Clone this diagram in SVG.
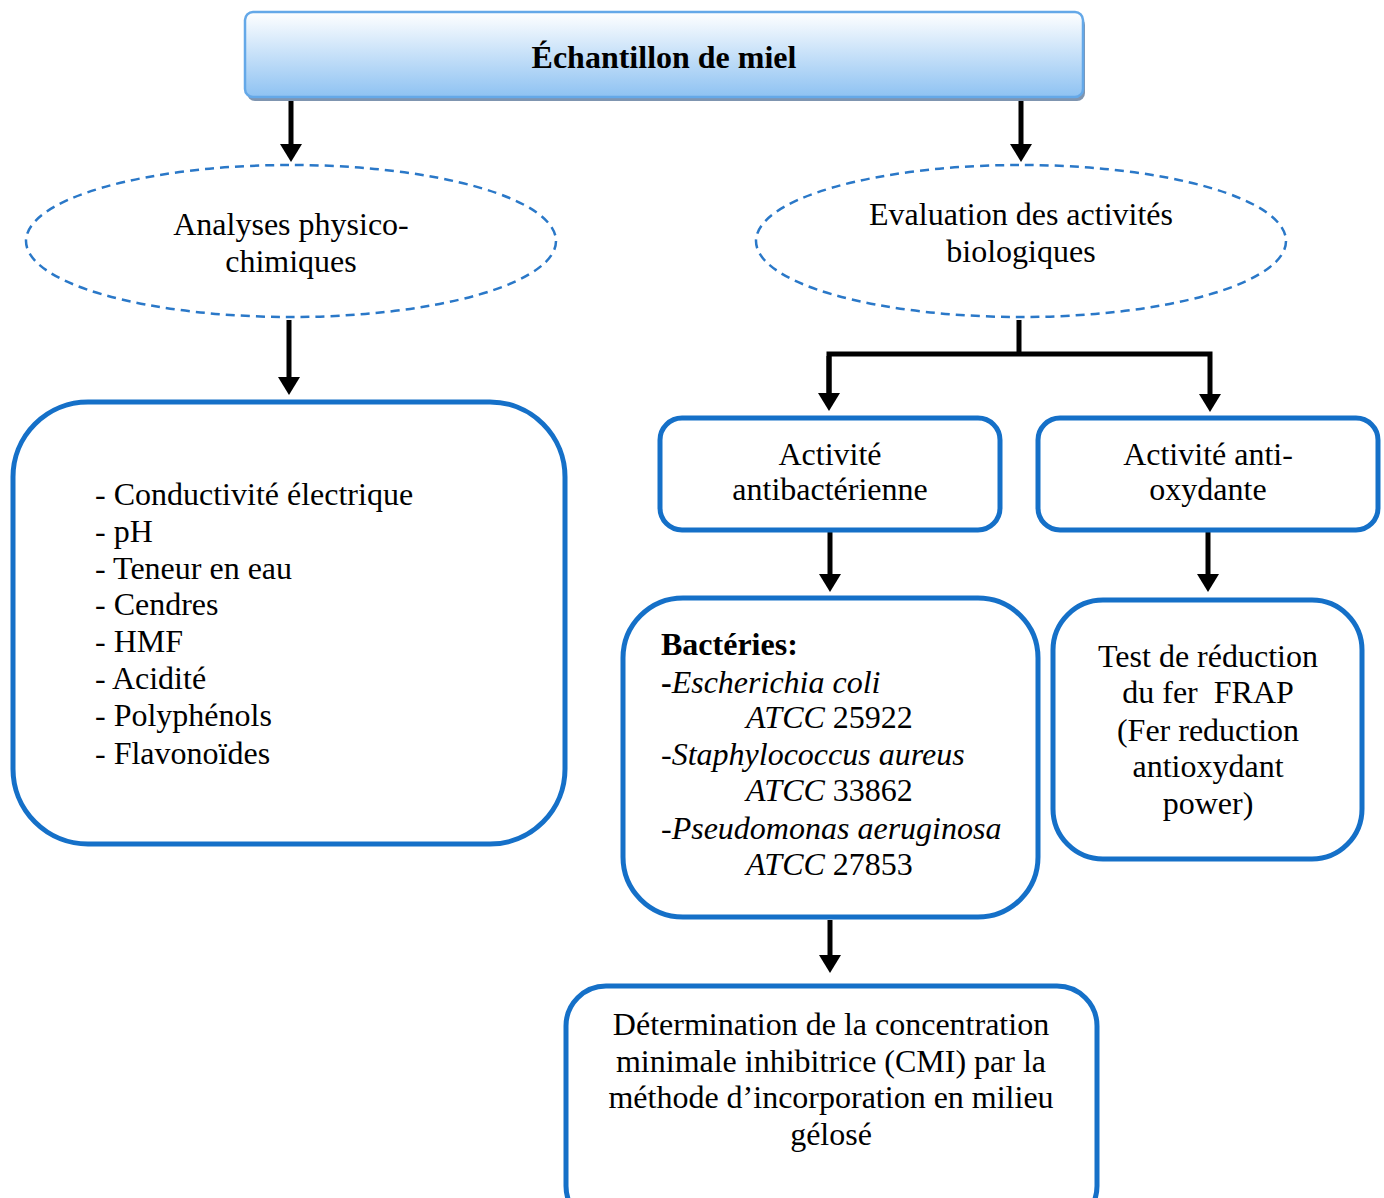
<svg xmlns="http://www.w3.org/2000/svg" width="1384" height="1198" viewBox="0 0 1384 1198">
<defs>
<linearGradient id="g1" x1="0" y1="0" x2="0" y2="1">
<stop offset="0" stop-color="#FFFFFF"/>
<stop offset="1" stop-color="#8EC2F2"/>
</linearGradient>
<marker id="ah" markerWidth="18" markerHeight="22" refX="0" refY="11" orient="auto" markerUnits="userSpaceOnUse" viewBox="0 0 18 22">
<path d="M0,0 L18,11 L0,22 Z" fill="#000"/>
</marker>
</defs>
<style>
text{font-family:"Liberation Serif","Times New Roman",serif;font-size:32px;fill:#000}
.c{text-anchor:middle}
.box{fill:#fff;stroke:#1570C8;stroke-width:5}
.ell{fill:#fff;stroke:#2A78C8;stroke-width:2.5;stroke-dasharray:9 6}
.ar{fill:none;stroke:#000;stroke-width:5}
.i{font-style:italic}
.b{font-weight:bold}
.pre{white-space:pre}
</style>
<rect width="1384" height="1198" fill="#fff"/>
<g id="connectors">
<line class="ar" x1="291" y1="100" x2="291" y2="144" marker-end="url(#ah)"/>
<line class="ar" x1="1021" y1="100" x2="1021" y2="144" marker-end="url(#ah)"/>
<line class="ar" x1="289" y1="320" x2="289" y2="377" marker-end="url(#ah)"/>
<polyline class="ar" points="1019,320 1019,354"/>
<polyline class="ar" points="829,394 829,354 1210,354 1210,394" marker-end="url(#ah)"/>
<line class="ar" x1="829" y1="356" x2="829" y2="393" marker-end="url(#ah)"/>
<line class="ar" x1="830" y1="532" x2="830" y2="574" marker-end="url(#ah)"/>
<line class="ar" x1="1208" y1="532" x2="1208" y2="574" marker-end="url(#ah)"/>
<line class="ar" x1="830" y1="920" x2="830" y2="955" marker-end="url(#ah)"/>
</g>
<g id="n-echantillon">
<rect x="247" y="17" width="838" height="84" rx="8" fill="#7F95B0"/>
<rect x="245" y="12" width="838" height="85" rx="8" fill="url(#g1)" stroke="#64A8E8" stroke-width="2.5"/>
<text class="c b" x="664" y="68">Échantillon de miel</text>
</g>
<g id="n-physico">
<ellipse class="ell" cx="291" cy="241" rx="265" ry="76"/>
<text class="c" x="291" y="235">Analyses physico-</text>
<text class="c" x="291" y="272">chimiques</text>
</g>
<g id="n-bio">
<ellipse class="ell" cx="1021" cy="241" rx="265" ry="76"/>
<text class="c" x="1021" y="225">Evaluation des activités</text>
<text class="c" x="1021" y="262">biologiques</text>
</g>
<g id="n-liste">
<rect class="box" x="13" y="402" width="552" height="442" rx="75"/>
<text x="95" y="505">- Conductivité électrique</text>
<text x="95" y="542">- pH</text>
<text x="95" y="579">- Teneur en eau</text>
<text x="95" y="615">- Cendres</text>
<text x="95" y="652">- HMF</text>
<text x="95" y="689">- Acidité</text>
<text x="95" y="726">- Polyphénols</text>
<text x="95" y="764">- Flavonoïdes</text>
</g>
<g id="n-antibact">
<rect class="box" x="660" y="418" width="340" height="112" rx="22"/>
<text class="c" x="830" y="465">Activité</text>
<text class="c" x="830" y="500">antibactérienne</text>
</g>
<g id="n-antiox">
<rect class="box" x="1038" y="418" width="340" height="112" rx="22"/>
<text class="c" x="1208" y="465">Activité anti-</text>
<text class="c" x="1208" y="500">oxydante</text>
</g>
<g id="n-bacteries">
<rect class="box" x="623" y="598" width="415" height="319" rx="60"/>
<text class="b" x="661" y="655">Bactéries:</text>
<text x="661" y="693"><tspan class="b">-</tspan><tspan class="i">Escherichia coli</tspan></text>
<text x="746" y="728"><tspan class="i">ATCC</tspan> 25922</text>
<text x="661" y="765"><tspan class="i">-Staphylococcus aureus</tspan></text>
<text x="746" y="801"><tspan class="i">ATCC</tspan> 33862</text>
<text x="661" y="839"><tspan class="i">-Pseudomonas aeruginosa</tspan></text>
<text x="746" y="875"><tspan class="i">ATCC</tspan> 27853</text>
</g>
<g id="n-frap">
<rect class="box" x="1053" y="600" width="309" height="259" rx="50"/>
<text class="c" x="1208" y="667">Test de réduction</text>
<text class="c pre" x="1208" y="703">du fer  FRAP</text>
<text class="c" x="1208" y="741">(Fer reduction</text>
<text class="c" x="1208" y="777">antioxydant</text>
<text class="c" x="1208" y="814">power)</text>
</g>
<g id="n-cmi">
<rect class="box" x="566" y="986" width="531" height="240" rx="40"/>
<text class="c" x="831" y="1035">Détermination de la concentration</text>
<text class="c" x="831" y="1072">minimale inhibitrice (CMI) par la</text>
<text class="c" x="831" y="1108">méthode d’incorporation en milieu</text>
<text class="c" x="831" y="1145">gélosé</text>
</g>
</svg>
